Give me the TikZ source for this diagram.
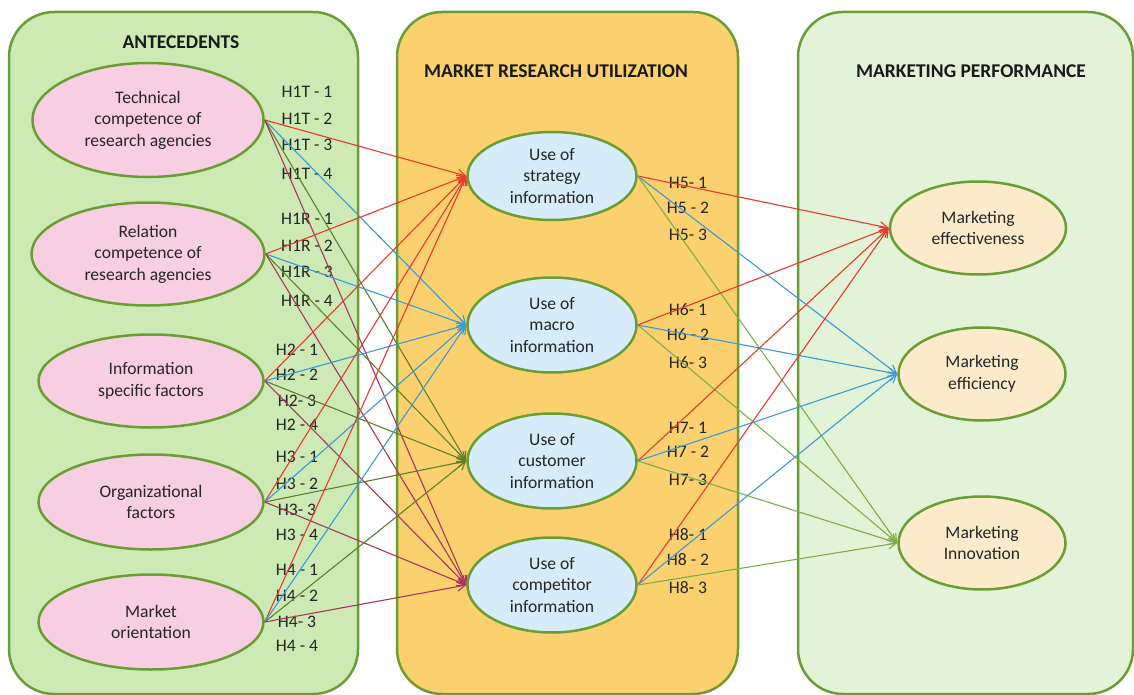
\documentclass[tikz,border=0pt]{standalone}
\usepackage{fontspec}
\setmainfont{Carlito}
\usepackage{tikz}
\usetikzlibrary{shapes.geometric,arrows.meta}

\definecolor{boxgreen}{HTML}{6A9E34}
\definecolor{antfill}{HTML}{CDEAB5}
\definecolor{mrufill}{HTML}{FBD06E}
\definecolor{perffill}{HTML}{E2F3D7}
\definecolor{pinkfill}{HTML}{F8CEE2}
\definecolor{bluefill}{HTML}{D7ECFA}
\definecolor{creamfill}{HTML}{FCEBCB}
\definecolor{lnred}{HTML}{E63A2C}
\definecolor{lnblue}{HTML}{3A9AD8}
\definecolor{lnolive}{HTML}{5E7F2C}
\definecolor{lnpurple}{HTML}{A8365E}
\definecolor{lngreen}{HTML}{7DAD4A}

\begin{document}
\begin{tikzpicture}[->, >={Straight Barb[length=8pt,width=9pt]}, x=1pt, y=-1pt,
  font=\fontsize{17.6}{21.5}\selectfont]
  \tikzstyle{panel}=[-,draw=boxgreen,line width=2.5pt,rounded corners=45pt]
  \tikzstyle{factor}=[ellipse,draw=boxgreen,line width=2.5pt,inner sep=0pt,align=center,text=black!85]
  \tikzstyle{antecedent}=[factor,fill=pinkfill]
  \tikzstyle{usage}=[factor,fill=bluefill,minimum width=169pt,minimum height=95pt]
  \tikzstyle{outcome}=[factor,fill=creamfill,minimum width=167pt,minimum height=93pt]
  \tikzstyle{heading}=[font=\fontsize{19.5}{22}\selectfont\bfseries,text=black!90]
  \tikzstyle{hyp}=[inner sep=0pt,text=black!85]
  \tikzstyle{tored}=[draw=lnred,line width=1.1pt]
  \tikzstyle{toblue}=[draw=lnblue,line width=1.1pt]
  \tikzstyle{toolive}=[draw=lnolive,line width=1.1pt]
  \tikzstyle{topurple}=[draw=lnpurple,line width=1.1pt]
  \tikzstyle{togreen}=[draw=lngreen,line width=1.1pt]

  \useasboundingbox (0,0) rectangle (1134,695);

  % columns
  \draw[panel,fill=antfill]  (9,12)   rectangle (358,694);
  \draw[panel,fill=mrufill]  (397,12) rectangle (738,694);
  \draw[panel,fill=perffill] (798,12) rectangle (1133,694);

  \node[heading] (antT) at (181,42) {ANTECEDENTS};
  \node[heading] (mruT) at (556,71) {MARKET RESEARCH UTILIZATION};
  \node[heading] (perfT) at (971,71) {MARKETING PERFORMANCE};

  % antecedents
  \node[antecedent,minimum width=231pt,minimum height=114pt] (tech) at (148,120)
    {Technical\\competence of\\research agencies};
  \node[antecedent,minimum width=233pt,minimum height=103pt] (rel) at (148,254)
    {Relation\\competence of\\research agencies};
  \node[antecedent,minimum width=225pt,minimum height=93pt] (info) at (151,381)
    {Information\\specific factors};
  \node[antecedent,minimum width=225pt,minimum height=95pt] (org) at (151,502)
    {Organizational\\factors};
  \node[antecedent,minimum width=225pt,minimum height=95pt] (mkt) at (151,622)
    {Market\\orientation};

  % utilization
  \node[usage,minimum height=88pt] (strat) at (552,176) {Use of\\strategy\\information};
  \node[usage] (macro) at (552,325) {Use of\\macro\\information};
  \node[usage] (cust)  at (552,461) {Use of\\customer\\information};
  \node[usage] (comp)  at (552,585) {Use of\\competitor\\information};

  % performance
  \node[outcome,minimum width=176pt] (eff) at (978,228) {Marketing\\effectiveness};
  \node[outcome] (effi) at (982,374) {Marketing\\efficiency};
  \node[outcome] (inno) at (982,543) {Marketing\\Innovation};

  % hypothesis labels
  \node[hyp] (h1t1) at (307,92)  {H1T - 1};
  \node[hyp] (h1t2) at (307,119) {H1T - 2};
  \node[hyp] (h1t3) at (307,145) {H1T - 3};
  \node[hyp] (h1t4) at (307,174) {H1T - 4};
  \node[hyp] (h1r1) at (307,219) {H1R - 1};
  \node[hyp] (h1r2) at (307,246) {H1R - 2};
  \node[hyp] (h1r3) at (307,272) {H1R - 3};
  \node[hyp] (h1r4) at (307,301) {H1R - 4};
  \node[hyp] (h21) at (297,350) {H2 - 1};
  \node[hyp] (h22) at (297,375) {H2 - 2};
  \node[hyp] (h23) at (297,401) {H2- 3};
  \node[hyp] (h24) at (297,425) {H2 - 4};
  \node[hyp] (h31) at (297,457) {H3 - 1};
  \node[hyp] (h32) at (297,484) {H3 - 2};
  \node[hyp] (h33) at (297,510) {H3- 3};
  \node[hyp] (h34) at (297,535) {H3 - 4};
  \node[hyp] (h41) at (297,570) {H4 - 1};
  \node[hyp] (h42) at (297,596) {H4 - 2};
  \node[hyp] (h43) at (297,622) {H4- 3};
  \node[hyp] (h44) at (297,646) {H4 - 4};
  \node[hyp] (h51) at (688,183) {H5- 1};
  \node[hyp] (h52) at (688,208) {H5 - 2};
  \node[hyp] (h53) at (688,235) {H5- 3};
  \node[hyp] (h61) at (688,310) {H6- 1};
  \node[hyp] (h62) at (688,335) {H6 - 2};
  \node[hyp] (h63) at (688,363) {H6- 3};
  \node[hyp] (h71) at (688,428) {H7- 1};
  \node[hyp] (h72) at (688,452) {H7 - 2};
  \node[hyp] (h73) at (688,480) {H7- 3};
  \node[hyp] (h81) at (688,535) {H8- 1};
  \node[hyp] (h82) at (688,560) {H8 - 2};
  \node[hyp] (h83) at (688,588) {H8- 3};

  % paths
  \path (tech.east) edge[tored] (strat.west) edge[toblue] (macro.west)
                    edge[toolive] (cust.west) edge[topurple] (comp.west);
  \path (rel.east)  edge[tored] (strat.west) edge[toblue] (macro.west)
                    edge[toolive] (cust.west) edge[topurple] (comp.west);
  \path (info.east) edge[tored] (strat.west) edge[toblue] (macro.west)
                    edge[toolive] (cust.west) edge[topurple] (comp.west);
  \path (org.east)  edge[tored] (strat.west) edge[toblue] (macro.west)
                    edge[toolive] (cust.west) edge[topurple] (comp.west);
  \path (mkt.east)  edge[tored] (strat.west) edge[toblue] (macro.west)
                    edge[toolive] (cust.west) edge[topurple] (comp.west);

  \path (strat.east) edge[tored] (eff.west) edge[toblue] (effi.west) edge[togreen] (inno.west);
  \path (macro.east) edge[tored] (eff.west) edge[toblue] (effi.west) edge[togreen] (inno.west);
  \path (cust.east)  edge[tored] (eff.west) edge[toblue] (effi.west) edge[togreen] (inno.west);
  \path (comp.east)  edge[tored] (eff.west) edge[toblue] (effi.west) edge[togreen] (inno.west);

\end{tikzpicture}
\end{document}
